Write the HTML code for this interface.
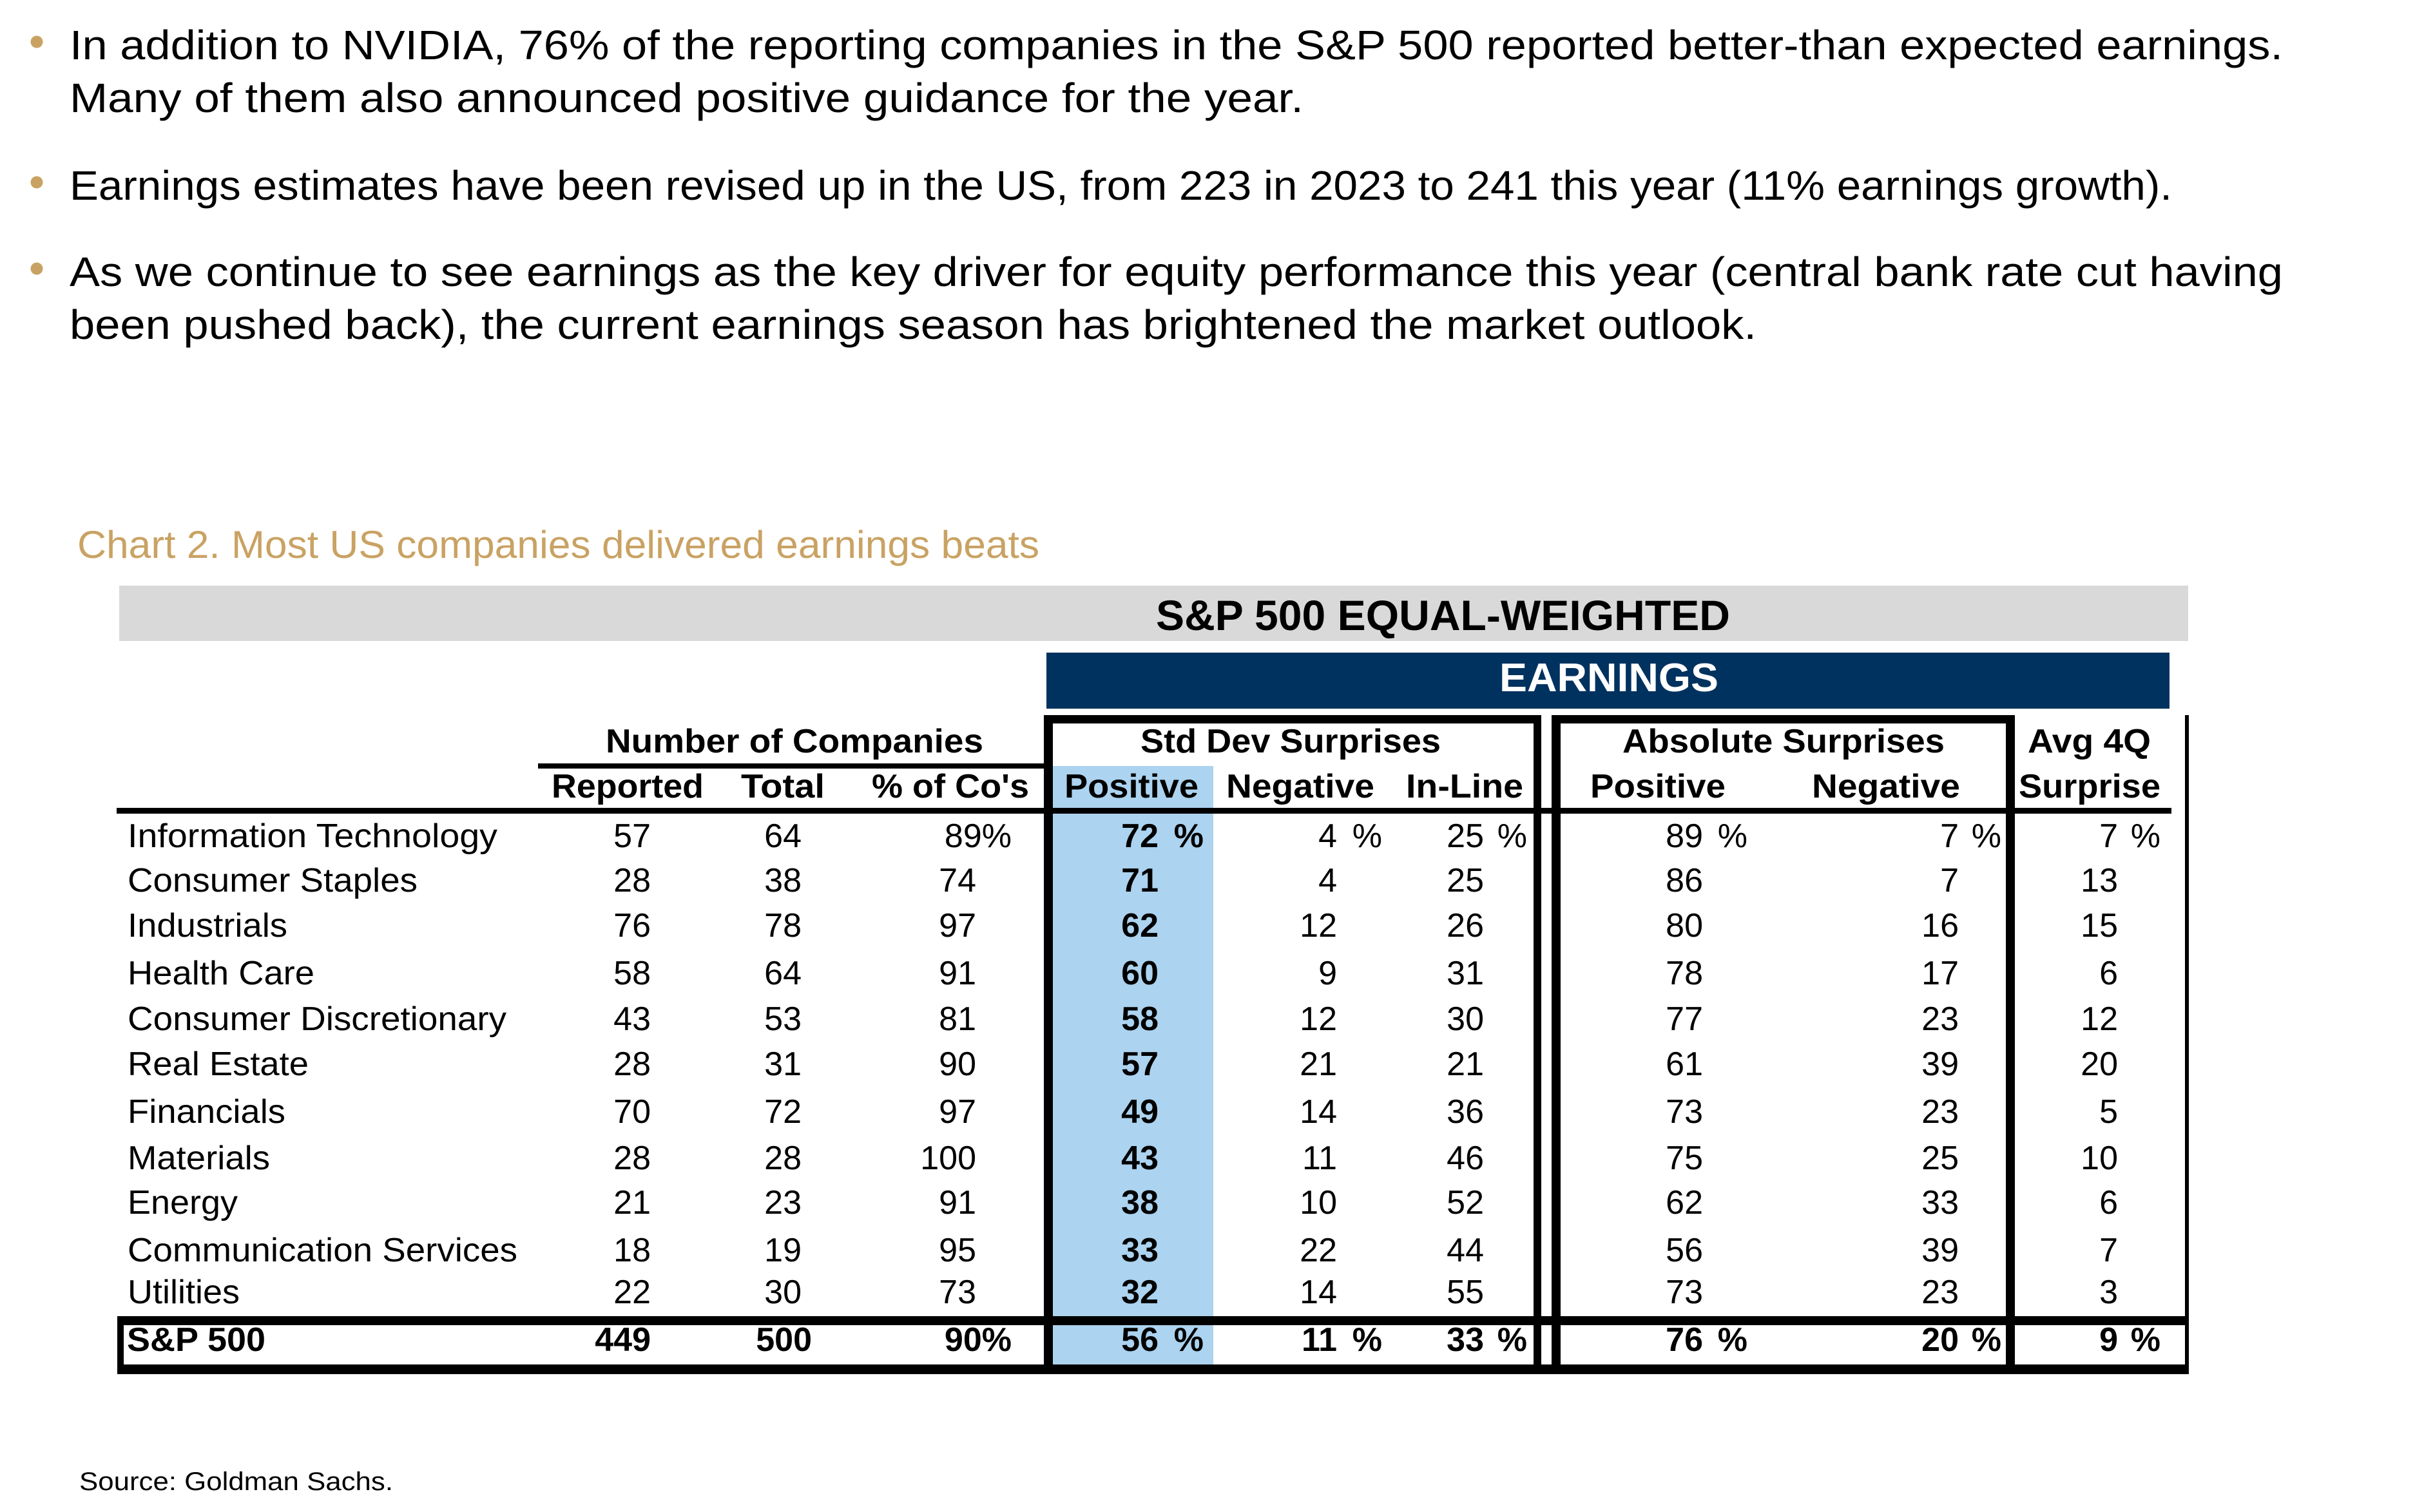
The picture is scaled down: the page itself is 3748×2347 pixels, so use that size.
<!DOCTYPE html>
<html>
<head>
<meta charset="utf-8">
<style>
html,body{margin:0;padding:0;background:#fff;}
svg{display:block;}
text{font-family:"Liberation Sans",Arial,sans-serif;}
.body{font-size:64px;fill:#000;}
.h{font-size:52px;font-weight:bold;fill:#000;}
.lab{font-size:52px;fill:#000;}
.n{font-size:52px;fill:#000;text-anchor:end;}
.b{font-weight:bold;}
</style>
</head>
<body>
<svg width="3748" height="2347" viewBox="0 0 3748 2347" xmlns="http://www.w3.org/2000/svg">
<rect x="0" y="0" width="3748" height="2347" fill="#fff"/>

<!-- Bullets -->
<circle cx="57" cy="65" r="9.5" fill="#c9a263"/>
<circle cx="57" cy="283" r="9.5" fill="#c9a263"/>
<circle cx="57" cy="417" r="9.5" fill="#c9a263"/>

<!-- Body text -->
<text class="body" x="108" y="92" textLength="3435" lengthAdjust="spacingAndGlyphs">In addition to NVIDIA, 76% of the reporting companies in the S&amp;P 500 reported better-than expected earnings.</text>
<text class="body" x="108" y="174" textLength="1915" lengthAdjust="spacingAndGlyphs">Many of them also announced positive guidance for the year.</text>
<text class="body" x="108" y="310" textLength="3263" lengthAdjust="spacingAndGlyphs">Earnings estimates have been revised up in the US, from 223 in 2023 to 241 this year (11% earnings growth).</text>
<text class="body" x="108" y="444" textLength="3435" lengthAdjust="spacingAndGlyphs">As we continue to see earnings as the key driver for equity performance this year (central bank rate cut having</text>
<text class="body" x="108" y="526" textLength="2618" lengthAdjust="spacingAndGlyphs">been pushed back), the current earnings season has brightened the market outlook.</text>

<!-- Chart title -->
<text x="120" y="866" font-size="60" fill="#c9a263" textLength="1493" lengthAdjust="spacingAndGlyphs">Chart 2. Most US companies delivered earnings beats</text>

<!-- Gray bar -->
<rect x="185" y="909" width="3211" height="86" fill="#d9d9d9"/>
<text x="1794" y="978" font-size="66" font-weight="bold" fill="#000" textLength="891" lengthAdjust="spacingAndGlyphs">S&amp;P 500 EQUAL-WEIGHTED</text>

<!-- Navy bar -->
<rect x="1624" y="1013" width="1743" height="87" fill="#00325f"/>
<text x="2327" y="1073" font-size="62" font-weight="bold" fill="#fff" textLength="340" lengthAdjust="spacingAndGlyphs">EARNINGS</text>

<!-- Blue highlight column -->
<rect x="1634" y="1189" width="249" height="929" fill="#acd3ef"/>

<!-- Lines -->
<rect x="835" y="1185" width="785" height="8" fill="#000"/>
<rect x="181" y="1254" width="3189" height="9" fill="#000"/>
<!-- Std box -->
<rect x="1620" y="1110" width="772" height="13" fill="#000"/>
<rect x="1620" y="1110" width="14" height="1023" fill="#000"/>
<rect x="2380" y="1110" width="12" height="1023" fill="#000"/>
<!-- Abs box -->
<rect x="2408" y="1110" width="719" height="13" fill="#000"/>
<rect x="2408" y="1110" width="14" height="1023" fill="#000"/>
<rect x="3113" y="1110" width="14" height="1023" fill="#000"/>
<!-- Avg right -->
<rect x="3391" y="1110" width="6" height="1023" fill="#000"/>
<!-- S&P row box -->
<rect x="182" y="2043" width="3215" height="14" fill="#000"/>
<rect x="182" y="2118" width="3215" height="15" fill="#000"/>
<rect x="182" y="2043" width="10" height="90" fill="#000"/>

<!-- Group headers -->
<text class="h" x="940" y="1168" textLength="586" lengthAdjust="spacingAndGlyphs">Number of Companies</text>
<text class="h" x="1770" y="1168" textLength="466" lengthAdjust="spacingAndGlyphs">Std Dev Surprises</text>
<text class="h" x="2518" y="1168" textLength="500" lengthAdjust="spacingAndGlyphs">Absolute Surprises</text>
<text class="h" x="3147" y="1168" textLength="191" lengthAdjust="spacingAndGlyphs">Avg 4Q</text>

<!-- Sub headers -->
<text class="h" x="856" y="1238" textLength="236" lengthAdjust="spacingAndGlyphs">Reported</text>
<text class="h" x="1150" y="1238" textLength="130" lengthAdjust="spacingAndGlyphs">Total</text>
<text class="h" x="1353" y="1238" textLength="244" lengthAdjust="spacingAndGlyphs">% of Co's</text>
<text class="h" x="1652" y="1238" textLength="208" lengthAdjust="spacingAndGlyphs">Positive</text>
<text class="h" x="1903" y="1238" textLength="230" lengthAdjust="spacingAndGlyphs">Negative</text>
<text class="h" x="2182" y="1238" textLength="182" lengthAdjust="spacingAndGlyphs">In-Line</text>
<text class="h" x="2468" y="1238" textLength="210" lengthAdjust="spacingAndGlyphs">Positive</text>
<text class="h" x="2812" y="1238" textLength="230" lengthAdjust="spacingAndGlyphs">Negative</text>
<text class="h" x="3133" y="1238" textLength="220" lengthAdjust="spacingAndGlyphs">Surprise</text>

<!-- Row labels -->
<text class="lab" x="198" y="1315" textLength="574" lengthAdjust="spacingAndGlyphs">Information Technology</text>
<text class="lab" x="198" y="1384" textLength="450" lengthAdjust="spacingAndGlyphs">Consumer Staples</text>
<text class="lab" x="198" y="1454" textLength="248" lengthAdjust="spacingAndGlyphs">Industrials</text>
<text class="lab" x="198" y="1528" textLength="290" lengthAdjust="spacingAndGlyphs">Health Care</text>
<text class="lab" x="198" y="1599" textLength="588" lengthAdjust="spacingAndGlyphs">Consumer Discretionary</text>
<text class="lab" x="198" y="1669" textLength="281" lengthAdjust="spacingAndGlyphs">Real Estate</text>
<text class="lab" x="198" y="1743" textLength="245" lengthAdjust="spacingAndGlyphs">Financials</text>
<text class="lab" x="198" y="1815" textLength="221" lengthAdjust="spacingAndGlyphs">Materials</text>
<text class="lab" x="198" y="1884" textLength="171" lengthAdjust="spacingAndGlyphs">Energy</text>
<text class="lab" x="198" y="1958" textLength="605" lengthAdjust="spacingAndGlyphs">Communication Services</text>
<text class="lab" x="198" y="2023" textLength="174" lengthAdjust="spacingAndGlyphs">Utilities</text>
<text class="lab b" x="197" y="2097" textLength="215" lengthAdjust="spacingAndGlyphs">S&amp;P 500</text>

<!-- Row 1: Information Technology -->
<g>
<text class="n" x="1010" y="1315">57</text>
<text class="n" x="1244" y="1315">64</text>
<text class="n" x="1570" y="1315">89%</text>
<text class="n b" x="1798" y="1315">72</text><text class="n b" x="1868" y="1315">%</text>
<text class="n" x="2075" y="1315">4</text><text class="n" x="2145" y="1315">%</text>
<text class="n" x="2303" y="1315">25</text><text class="n" x="2370" y="1315">%</text>
<text class="n" x="2643" y="1315">89</text><text class="n" x="2712" y="1315">%</text>
<text class="n" x="3040" y="1315">7</text><text class="n" x="3106" y="1315">%</text>
<text class="n" x="3287" y="1315">7</text><text class="n" x="3353" y="1315">%</text>
</g>

<!-- Row 2 -->
<g>
<text class="n" x="1010" y="1384">28</text>
<text class="n" x="1244" y="1384">38</text>
<text class="n" x="1515" y="1384">74</text>
<text class="n b" x="1798" y="1384">71</text>
<text class="n" x="2075" y="1384">4</text>
<text class="n" x="2303" y="1384">25</text>
<text class="n" x="2643" y="1384">86</text>
<text class="n" x="3040" y="1384">7</text>
<text class="n" x="3287" y="1384">13</text>
</g>

<!-- Row 3 -->
<g>
<text class="n" x="1010" y="1454">76</text>
<text class="n" x="1244" y="1454">78</text>
<text class="n" x="1515" y="1454">97</text>
<text class="n b" x="1798" y="1454">62</text>
<text class="n" x="2075" y="1454">12</text>
<text class="n" x="2303" y="1454">26</text>
<text class="n" x="2643" y="1454">80</text>
<text class="n" x="3040" y="1454">16</text>
<text class="n" x="3287" y="1454">15</text>
</g>

<!-- Row 4 -->
<g>
<text class="n" x="1010" y="1528">58</text>
<text class="n" x="1244" y="1528">64</text>
<text class="n" x="1515" y="1528">91</text>
<text class="n b" x="1798" y="1528">60</text>
<text class="n" x="2075" y="1528">9</text>
<text class="n" x="2303" y="1528">31</text>
<text class="n" x="2643" y="1528">78</text>
<text class="n" x="3040" y="1528">17</text>
<text class="n" x="3287" y="1528">6</text>
</g>

<!-- Row 5 -->
<g>
<text class="n" x="1010" y="1599">43</text>
<text class="n" x="1244" y="1599">53</text>
<text class="n" x="1515" y="1599">81</text>
<text class="n b" x="1798" y="1599">58</text>
<text class="n" x="2075" y="1599">12</text>
<text class="n" x="2303" y="1599">30</text>
<text class="n" x="2643" y="1599">77</text>
<text class="n" x="3040" y="1599">23</text>
<text class="n" x="3287" y="1599">12</text>
</g>

<!-- Row 6 -->
<g>
<text class="n" x="1010" y="1669">28</text>
<text class="n" x="1244" y="1669">31</text>
<text class="n" x="1515" y="1669">90</text>
<text class="n b" x="1798" y="1669">57</text>
<text class="n" x="2075" y="1669">21</text>
<text class="n" x="2303" y="1669">21</text>
<text class="n" x="2643" y="1669">61</text>
<text class="n" x="3040" y="1669">39</text>
<text class="n" x="3287" y="1669">20</text>
</g>

<!-- Row 7 -->
<g>
<text class="n" x="1010" y="1743">70</text>
<text class="n" x="1244" y="1743">72</text>
<text class="n" x="1515" y="1743">97</text>
<text class="n b" x="1798" y="1743">49</text>
<text class="n" x="2075" y="1743">14</text>
<text class="n" x="2303" y="1743">36</text>
<text class="n" x="2643" y="1743">73</text>
<text class="n" x="3040" y="1743">23</text>
<text class="n" x="3287" y="1743">5</text>
</g>

<!-- Row 8 -->
<g>
<text class="n" x="1010" y="1815">28</text>
<text class="n" x="1244" y="1815">28</text>
<text class="n" x="1515" y="1815">100</text>
<text class="n b" x="1798" y="1815">43</text>
<text class="n" x="2075" y="1815">11</text>
<text class="n" x="2303" y="1815">46</text>
<text class="n" x="2643" y="1815">75</text>
<text class="n" x="3040" y="1815">25</text>
<text class="n" x="3287" y="1815">10</text>
</g>

<!-- Row 9 -->
<g>
<text class="n" x="1010" y="1884">21</text>
<text class="n" x="1244" y="1884">23</text>
<text class="n" x="1515" y="1884">91</text>
<text class="n b" x="1798" y="1884">38</text>
<text class="n" x="2075" y="1884">10</text>
<text class="n" x="2303" y="1884">52</text>
<text class="n" x="2643" y="1884">62</text>
<text class="n" x="3040" y="1884">33</text>
<text class="n" x="3287" y="1884">6</text>
</g>

<!-- Row 10 -->
<g>
<text class="n" x="1010" y="1958">18</text>
<text class="n" x="1244" y="1958">19</text>
<text class="n" x="1515" y="1958">95</text>
<text class="n b" x="1798" y="1958">33</text>
<text class="n" x="2075" y="1958">22</text>
<text class="n" x="2303" y="1958">44</text>
<text class="n" x="2643" y="1958">56</text>
<text class="n" x="3040" y="1958">39</text>
<text class="n" x="3287" y="1958">7</text>
</g>

<!-- Row 11 -->
<g>
<text class="n" x="1010" y="2023">22</text>
<text class="n" x="1244" y="2023">30</text>
<text class="n" x="1515" y="2023">73</text>
<text class="n b" x="1798" y="2023">32</text>
<text class="n" x="2075" y="2023">14</text>
<text class="n" x="2303" y="2023">55</text>
<text class="n" x="2643" y="2023">73</text>
<text class="n" x="3040" y="2023">23</text>
<text class="n" x="3287" y="2023">3</text>
</g>

<!-- S&P 500 row -->
<g>
<text class="n b" x="1010" y="2097">449</text>
<text class="n b" x="1260" y="2097">500</text>
<text class="n b" x="1570" y="2097">90%</text>
<text class="n b" x="1798" y="2097">56</text><text class="n b" x="1868" y="2097">%</text>
<text class="n b" x="2075" y="2097">11</text><text class="n b" x="2145" y="2097">%</text>
<text class="n b" x="2303" y="2097">33</text><text class="n b" x="2370" y="2097">%</text>
<text class="n b" x="2643" y="2097">76</text><text class="n b" x="2712" y="2097">%</text>
<text class="n b" x="3040" y="2097">20</text><text class="n b" x="3106" y="2097">%</text>
<text class="n b" x="3287" y="2097">9</text><text class="n b" x="3353" y="2097">%</text>
</g>

<!-- Source -->
<text x="123" y="2313" font-size="40" fill="#000" textLength="487" lengthAdjust="spacingAndGlyphs">Source: Goldman Sachs.</text>
</svg>
</body>
</html>
